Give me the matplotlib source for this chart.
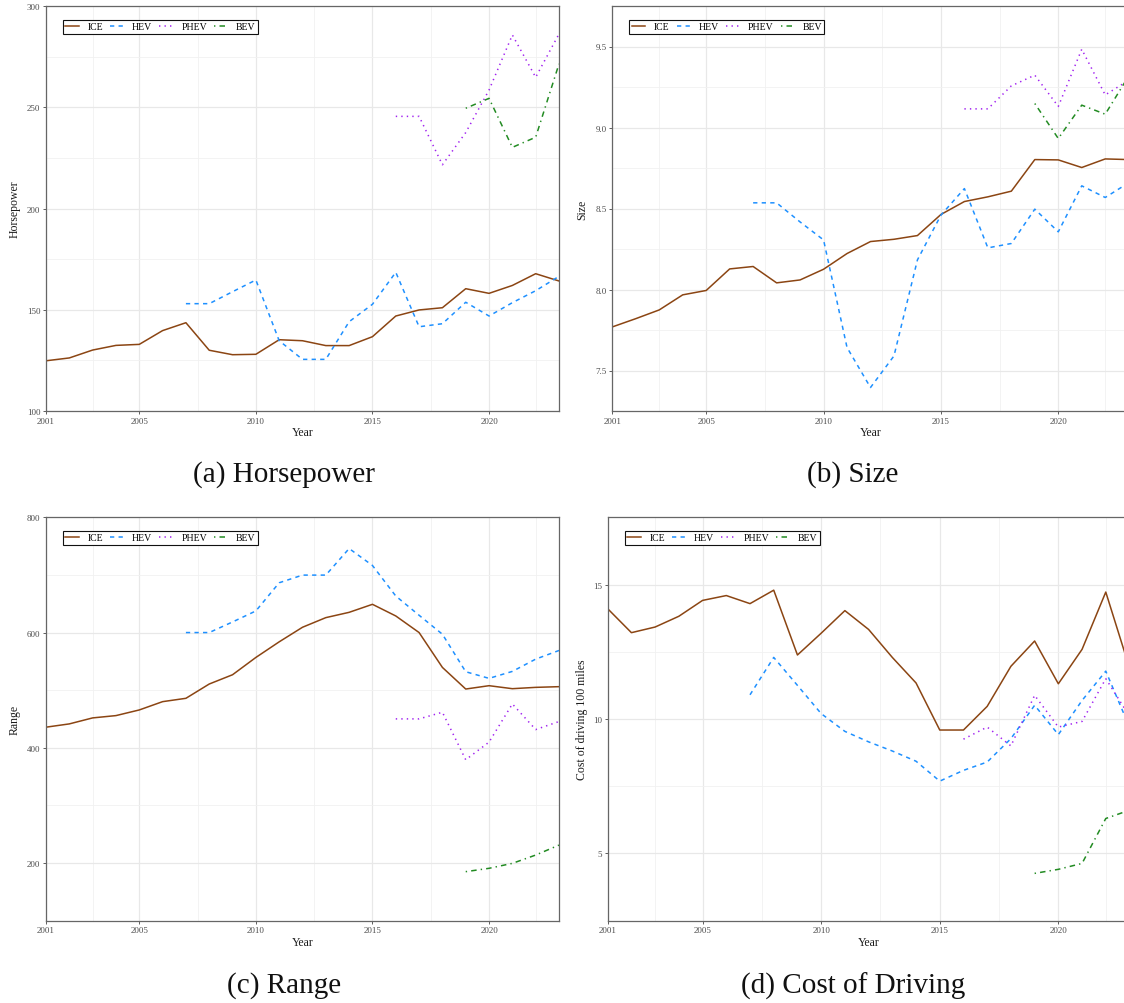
import matplotlib
matplotlib.use("Agg")
import matplotlib.pyplot as plt
from matplotlib.lines import Line2D
import numpy as np

plt.rcParams['font.family'] = ['Liberation Serif', 'DejaVu Serif']

# ---- data -------------------------------------------------------------
years_ice = list(range(2001, 2024))
years_hev = list(range(2007, 2024))
years_phev = list(range(2016, 2024))
years_bev = list(range(2019, 2024))

hp_ice = [124.8, 126.2, 130.1, 132.4, 132.9, 139.7, 143.6, 130.0, 127.8, 128.0, 135.2, 134.7,
          132.3, 132.3, 136.7, 146.9, 149.9, 151.0, 160.4, 158.1, 162.0, 167.8, 164.2]
hp_hev = [153.0, 153.0, 158.9, 164.7, 134.7, 125.5, 125.5, 144.1, 152.7, 168.5, 141.6, 143.1,
          153.7, 146.9, 153.5, 159.4, 166.5]
hp_phev = [245.5, 245.5, 221.6, 237.5, 258.5, 285.7, 264.8, 286.2]
hp_bev = [249.5, 254.4, 230.2, 235.2, 271.4]

size_ice = [7.769, 7.820, 7.874, 7.967, 7.994, 8.127, 8.142, 8.041, 8.059, 8.125, 8.222, 8.296,
            8.310, 8.333, 8.463, 8.543, 8.572, 8.607, 8.802, 8.800, 8.753, 8.806, 8.802]
size_hev = [8.535, 8.535, 8.417, 8.306, 7.642, 7.395, 7.590, 8.183, 8.459, 8.623, 8.257, 8.284,
            8.496, 8.356, 8.640, 8.568, 8.659]
size_phev = [9.115, 9.115, 9.257, 9.323, 9.130, 9.483, 9.201, 9.292]
size_bev = [9.148, 8.932, 9.138, 9.082, 9.318]

range_ice = [435.8, 441.5, 451.9, 455.9, 465.7, 480.1, 485.9, 510.7, 526.8, 556.8, 583.9, 609.2,
             625.9, 635.1, 649.0, 628.8, 600.0, 539.5, 502.0, 507.8, 502.6, 504.9, 506.1]
range_hev = [600.0, 600.0, 618.4, 637.5, 686.4, 699.7, 699.7, 745.8, 716.4, 663.4, 630.0, 597.1,
             532.0, 520.5, 532.6, 553.9, 568.9]
range_phev = [450.2, 450.2, 461.7, 379.3, 409.9, 476.1, 431.7, 445.6]
range_bev = [185.1, 190.9, 199.5, 213.9, 231.2]

cost_ice = [14.10, 13.21, 13.42, 13.82, 14.41, 14.59, 14.29, 14.79, 12.38, 13.19, 14.03, 13.33,
            12.29, 11.34, 9.59, 9.59, 10.47, 11.96, 12.90, 11.31, 12.59, 14.72, 11.90]
cost_hev = [10.90, 12.29, 11.25, 10.20, 9.54, 9.15, 8.81, 8.43, 7.69, 8.09, 8.40, 9.27,
            10.51, 9.42, 10.69, 11.78, 9.70]
cost_phev = [9.25, 9.70, 9.00, 10.88, 9.70, 9.91, 11.50, 10.10]
cost_bev = [4.26, 4.41, 4.63, 6.30, 6.61]

x_ticks = [2001, 2005, 2010, 2015, 2020]
x_minor = [2003, 2007.5, 2012.5, 2017.5, 2022]

# ---- styles -----------------------------------------------------------
LW = 1.1
styles = {
    'ICE': dict(color='#8B4513', linestyle='-'),
    'HEV': dict(color='#1E90FF', linestyle=(0, (2.8, 2.8))),
    'PHEV': dict(color='#A020F0', linestyle=(0, (0.9, 2.7))),
    'BEV': dict(color='#228B22', linestyle=(0, (0.9, 2.7, 3.6, 2.7))),
}

W, H = 1124, 1004
fig = plt.figure(figsize=(W / 100, H / 100), dpi=100)
fig.patch.set_facecolor('white')


def make_axes(left, right, top, bottom):
    return fig.add_axes([left / W, 1 - bottom / H, (right - left) / W, (bottom - top) / H])


def style_axes(ax, ylim, yticks, ymin_minor, ylabel, ylabel_x, yfmt):
    ax.set_xlim(2001, 2023)
    ax.set_ylim(*ylim)
    ax.set_xticks(x_ticks)
    ax.set_xticklabels([str(t) for t in x_ticks])
    ax.set_yticks(yticks)
    ax.set_yticklabels([yfmt.format(t) for t in yticks])
    ax.set_xticks(x_minor, minor=True)
    ax.set_yticks(ymin_minor, minor=True)
    ax.grid(which='major', color='#e8e8e8', linewidth=0.9)
    ax.grid(which='minor', color='#f1f1f1', linewidth=0.6)
    ax.set_axisbelow(True)
    ax.tick_params(which='major', length=2.5, width=0.6, color='#444444',
                   labelsize=6.5, labelcolor='#4d4d4d', pad=1.5)
    ax.tick_params(which='minor', length=0)
    for sp in ax.spines.values():
        sp.set_color('#666666')
        sp.set_linewidth(0.9)
    ax.set_xlabel('Year', fontsize=8.5, color='#1a1a1a')
    ax.xaxis.label.set_va('center')
    ax.xaxis.set_label_coords(0.5, -0.052)
    ax.set_ylabel(ylabel, fontsize=8.5, color='#1a1a1a')
    ax.yaxis.label.set_va('center')
    ax.yaxis.set_label_coords(ylabel_x, 0.5)


def draw(ax, ice, hev, phev, bev):
    ax.plot(years_ice, ice, lw=LW, label='ICE', **styles['ICE'])
    ax.plot(years_hev, hev, lw=LW, label='HEV', **styles['HEV'])
    ax.plot(years_phev, phev, lw=LW, label='PHEV', **styles['PHEV'])
    ax.plot(years_bev, bev, lw=LW, label='BEV', **styles['BEV'])
    leg = ax.legend(loc='upper left', bbox_to_anchor=(0.033, 0.966), ncol=4,
                    fontsize=7, frameon=True, fancybox=False, borderpad=0.25,
                    borderaxespad=0, handlelength=1.4, handletextpad=0.85,
                    columnspacing=0.75)
    fr = leg.get_frame()
    fr.set_edgecolor('#111111')
    fr.set_linewidth(0.8)
    fr.set_facecolor('white')
    fr.set_alpha(1)


# (a) horsepower
ax_a = make_axes(46, 559, 7, 412)
draw(ax_a, hp_ice, hp_hev, hp_phev, hp_bev)
style_axes(ax_a, (100, 300), [100, 150, 200, 250, 300], [125, 175, 225, 275],
           'Horsepower', -0.062, '{:.0f}')

# (b) size
ax_b = make_axes(612.3, 1128.7, 7, 412)
draw(ax_b, size_ice, size_hev, size_phev, size_bev)
style_axes(ax_b, (7.25, 9.75), [7.5, 8.0, 8.5, 9.0, 9.5], [7.75, 8.25, 8.75, 9.25],
           'Size', -0.059, '{:.1f}')

# (c) range
ax_c = make_axes(46, 559, 518.3, 921.7)
draw(ax_c, range_ice, range_hev, range_phev, range_bev)
style_axes(ax_c, (100, 800), [200, 400, 600, 800], [300, 500, 700],
           'Range', -0.062, '{:.0f}')

# (d) cost of driving
ax_d = make_axes(607.7, 1129.5, 518.3, 921.7)
draw(ax_d, cost_ice, cost_hev, cost_phev, cost_bev)
style_axes(ax_d, (2.5, 17.5), [5, 10, 15], [7.5, 12.5],
           'Cost of driving 100 miles', -0.050, '{:.0f}')

# sub-figure captions
cap_kw = dict(ha='center', va='center', fontsize=21, color='#111111')
fig.text(284 / W, 1 - 475 / H, '(a) Horsepower', **cap_kw)
fig.text(853 / W, 1 - 475 / H, '(b) Size', **cap_kw)
fig.text(284 / W, 1 - 986 / H, '(c) Range', **cap_kw)
fig.text(853 / W, 1 - 986 / H, '(d) Cost of Driving', **cap_kw)

fig.savefig('out.png', dpi=100, facecolor='white')
